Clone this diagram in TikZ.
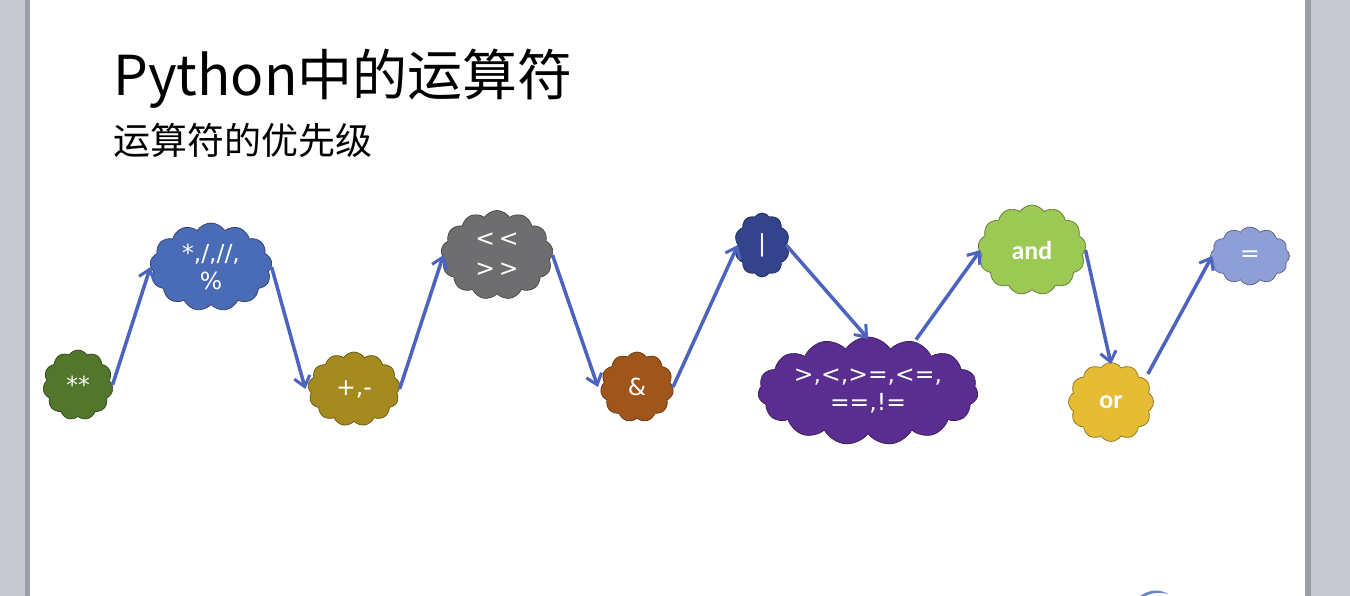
\documentclass[tikz,border=0pt]{standalone}
\usepackage{fontspec}
\setmainfont{Carlito}
\newfontfamily\cjk{Noto Sans CJK SC}
\newfontfamily\sym{DejaVu Sans}
\usetikzlibrary{shapes.symbols,arrows.meta}
\definecolor{arrowc}{HTML}{4C63C0}
\definecolor{cA}{HTML}{52762B}
\definecolor{cB}{HTML}{4A6BB6}
\definecolor{cC}{HTML}{A58A1F}
\definecolor{cD}{HTML}{6E6E70}
\definecolor{cE}{HTML}{A0561B}
\definecolor{cF}{HTML}{34448C}
\definecolor{cG}{HTML}{5A2D90}
\definecolor{cH}{HTML}{9CC854}
\definecolor{cI}{HTML}{E5BC34}
\definecolor{cJ}{HTML}{8E9FD8}
\definecolor{sideg}{HTML}{C8C9D0}
\definecolor{sided}{HTML}{9C9EA5}
\tikzset{
  puff/.style={cloud, cloud puffs=13, cloud puff arc=115, cloud ignores aspect,
    inner sep=0pt, draw=#1!60!black, fill=#1, line width=0.7pt, text=white,
    font=\sym\fontsize{23.5}{28}\selectfont, align=center},
  boldtxt/.style={font=\bfseries\fontsize{26}{30}\selectfont},
  flow/.style={draw=arrowc, line width=3.5pt, -{Straight Barb[length=10pt,width=16pt,line width=3pt]}}
}
\begin{document}
\begin{tikzpicture}[x=1pt,y=-1pt]
\useasboundingbox (0,0) rectangle (1350,596);
\fill[white] (0,0) rectangle (1350,596);
\fill[sideg] (0,0) rectangle (30,596);
\fill[sided] (25,0) rectangle (30,596);
\fill[sideg] (1305,0) rectangle (1350,596);
\fill[sided] (1305,0) rectangle (1311,596);
\fill[cB!80!white] (1140,596) .. controls (1150,589) and (1160,589) .. (1168,594) .. controls (1160,592) and (1150,593) .. (1146,596) -- cycle;

\node[anchor=base west, inner sep=0pt, font=\cjk\fontsize{55}{60}\selectfont] (title) at (113,96) {Python中的运算符};
\node[anchor=base west, inner sep=0pt, font=\cjk\fontsize{37}{40}\selectfont] (sub) at (113,155) {运算符的优先级};

\node[puff=cA, minimum width=70pt, minimum height=70pt, cloud puffs=11] (n1) at (78,385) {**};
\node[puff=cB, minimum width=122pt, minimum height=88pt] (n2) at (211,267) {*,/,//,\\\%};
\node[puff=cC, minimum width=92pt, minimum height=74pt] (n3) at (354,389) {+,-};
\node[puff=cD, minimum width=112pt, minimum height=89pt] (n4) at (497,255) {\mbox{<}\,\mbox{<}\\[2pt]\mbox{>}\,\mbox{>}};
\node[puff=cE, minimum width=73pt, minimum height=70pt, cloud puffs=11] (n5) at (637,387) {\&};
\node[puff=cF, minimum width=55pt, minimum height=64pt, cloud puffs=10] (n6) at (762,245) {|};
\node[puff=cG, minimum width=220pt, minimum height=108pt, cloud puffs=15] (n7) at (868,391) {>,<,>=,<=,\\==,!=};
\node[puff=cH, minimum width=108pt, minimum height=90pt, boldtxt] (n8) at (1032,250) {and};
\node[puff=cI, minimum width=85pt, minimum height=79pt, cloud puffs=12, boldtxt] (n9) at (1111,402) {or};
\node[puff=cJ, minimum width=79pt, minimum height=58pt, cloud puffs=12] (n10) at (1250,256) {=};

\draw[flow] (n1.east) -- (n2.west);
\draw[flow] (n2.east) -- ([xshift=-3pt]n3.west);
\draw[flow] (n3.east) -- ([xshift=2pt]n4.west);
\draw[flow] (n4.east) -- ([xshift=-3pt]n5.west);
\draw[flow] (n5.east) -- (n6.west);
\draw[flow] (n6.east) -- ([yshift=-2pt]n7.north);
\draw[flow] ([xshift=48pt,yshift=-3pt]n7.north) -- ([xshift=2pt]n8.west);
\draw[flow] (n8.east) -- ([yshift=-2pt]n9.north);
\draw[flow] ([xshift=-6pt,yshift=28pt]n9.east) -- ([xshift=2pt]n10.west);
\end{tikzpicture}
\end{document}
